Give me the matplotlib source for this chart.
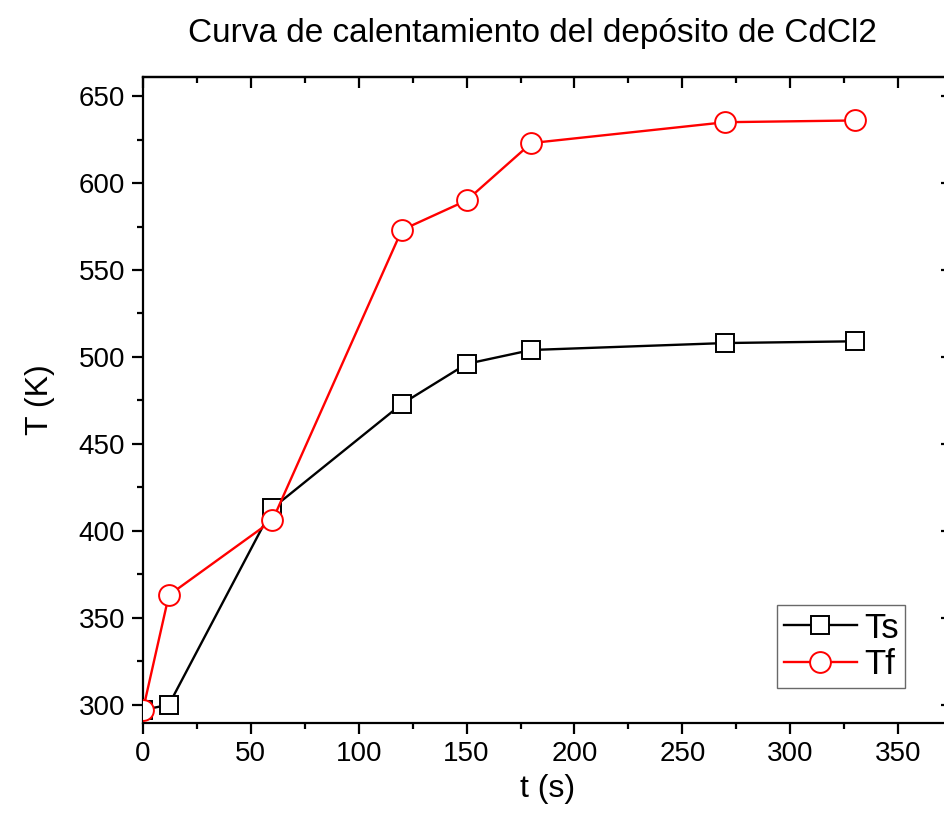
import matplotlib
matplotlib.use("Agg")
import matplotlib.pyplot as plt
from matplotlib.ticker import MultipleLocator

plt.rcParams['font.family'] = ['Liberation Sans', 'DejaVu Sans']

t = [0, 12, 60, 120, 150, 180, 270, 330]
ts = [297, 300, 413, 473, 496, 504, 508, 509]
tf = [297, 363, 406, 573, 590, 623, 635, 636]

title = "Curva de calentamiento del depósito de CdCl2"
xlabel = "t (s)"
ylabel = "T (K)"

fig = plt.figure(figsize=(9.45, 8.26), dpi=100)
ax = fig.add_axes([0.1513, 0.1247, 0.8561, 0.7821])

ax.plot(t, ts, color='black', lw=1.7, marker='s', ms=12.5, mfc='white',
        mec='black', mew=1.4, label='Ts', zorder=3)
ax.plot(t, tf, color='red', lw=1.7, marker='o', ms=15, mfc='white',
        mec='red', mew=1.4, label='Tf', zorder=3)

ax.set_xlim(0, 375)
ax.set_ylim(289.5, 661)
ax.xaxis.set_major_locator(MultipleLocator(50))
ax.xaxis.set_minor_locator(MultipleLocator(25))
ax.yaxis.set_major_locator(MultipleLocator(50))
ax.yaxis.set_minor_locator(MultipleLocator(25))

for s in ax.spines.values():
    s.set_linewidth(1.6)

ax.tick_params(which='both', direction='out', top=False, right=False,
               labelsize=20, width=1.6)
ax.tick_params(which='major', length=8, pad=5)
ax.tick_params(which='minor', length=4.5)

# inward ticks on the top and right edges
secx = ax.secondary_xaxis('top')
secx.xaxis.set_major_locator(MultipleLocator(50))
secx.xaxis.set_minor_locator(MultipleLocator(25))
secx.tick_params(which='both', direction='in', labeltop=False, width=1.6)
secx.tick_params(which='major', length=8)
secx.tick_params(which='minor', length=4.5)
secx.spines['top'].set_linewidth(1.6)

secy = ax.secondary_yaxis('right')
secy.yaxis.set_major_locator(MultipleLocator(50))
secy.yaxis.set_minor_locator(MultipleLocator(25))
secy.tick_params(which='both', direction='in', labelright=False, width=1.6)
secy.tick_params(which='major', length=8)
secy.tick_params(which='minor', length=4.5)

ax.set_xlabel(xlabel, fontsize=23, labelpad=5)
ax.set_ylabel(ylabel, fontsize=23, labelpad=17)
fig.text(0.5635, 0.960, title, fontsize=24, ha='center', va='center')

leg = ax.legend(loc='lower left', fontsize=25,
                frameon=True, fancybox=False, edgecolor='#444444',
                handlelength=2.1, handletextpad=0.2, borderpad=0.2,
                labelspacing=0.1, borderaxespad=0.0,
                bbox_to_anchor=(777 / 945, 1 - 688 / 826),
                bbox_transform=fig.transFigure)
leg.get_frame().set_linewidth(1.0)

fig.savefig("out.png", dpi=100)
